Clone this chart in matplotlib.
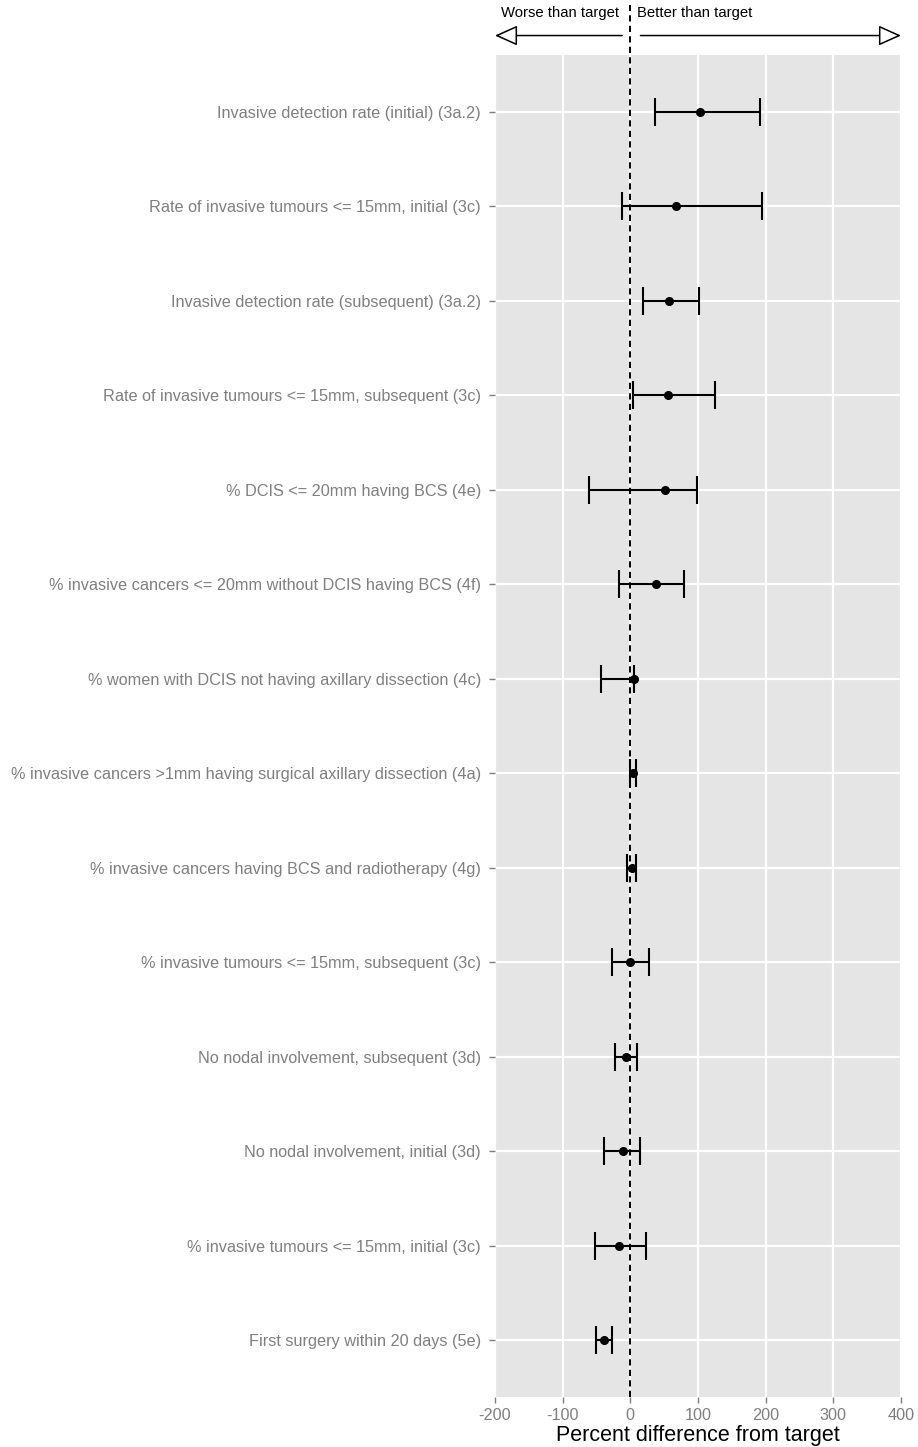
import numpy as np
import matplotlib
matplotlib.use('Agg')
import matplotlib.pyplot as plt

plt.rcParams['font.family'] = ['Liberation Sans', 'DejaVu Sans']

# indicators, top to bottom
labels = [
    'Invasive detection rate (initial) (3a.2)',
    'Rate of invasive tumours <= 15mm, initial (3c)',
    'Invasive detection rate (subsequent) (3a.2)',
    'Rate of invasive tumours <= 15mm, subsequent (3c)',
    '% DCIS <= 20mm having BCS (4e)',
    '% invasive cancers <= 20mm without DCIS having BCS (4f)',
    '% women with DCIS not having axillary dissection (4c)',
    '% invasive cancers >1mm having surgical axillary dissection (4a)',
    '% invasive cancers having BCS and radiotherapy (4g)',
    '% invasive tumours <= 15mm, subsequent (3c)',
    'No nodal involvement, subsequent (3d)',
    'No nodal involvement, initial (3d)',
    '% invasive tumours <= 15mm, initial (3c)',
    'First surgery within 20 days (5e)',
]
estimate = [103, 68, 57, 56, 51, 38, 5, 4, 3, 0, -6, -11, -17, -39]
lower = [36, -12, 19, 4, -61, -17, -43, -1, -5, -27, -23, -39, -52, -50]
upper = [191, 194, 102, 125, 98, 79, 6, 8, 8, 27, 10, 14, 23, -27]

x_ticks = [-200, -100, 0, 100, 200, 300, 400]

fig = plt.figure(figsize=(9.18, 14.47), dpi=100)
ax = fig.add_axes([495 / 918, 50 / 1447, 406 / 918, 1342 / 1447])
ax.set_facecolor('#E5E5E5')

y = np.arange(len(labels))
est = np.array(estimate)
err = np.vstack([est - np.array(lower), np.array(upper) - est])

ax.errorbar(est, y, xerr=err, fmt='o', color='black', ms=5.5,
            elinewidth=1.5, capsize=10, capthick=1.5, zorder=4)

ax.set_xlim(-200, 400)
ax.set_ylim(len(labels) - 0.4, -0.6)
ax.set_xticks(x_ticks)
ax.set_xticklabels([str(t) for t in x_ticks])
ax.set_yticks(y)
ax.set_yticklabels(labels)

ax.grid(True, color='white', lw=1.6, zorder=0)
ax.set_axisbelow(True)
for s in ax.spines.values():
    s.set_visible(False)
ax.tick_params(colors='#7F7F7F', labelsize=11.7, length=4, width=1, pad=4)
ax.tick_params(axis='y', pad=6)

ax.set_xlabel('Percent difference from target', fontsize=15.5, labelpad=1)

# target line, running up through the header arrows
ax.axvline(0, ymin=0, ymax=1.037, color='black', lw=1.4,
           ls=(0, (3.2, 2.2)), clip_on=False, zorder=3)

arrow = dict(arrowstyle='-|>,head_length=1.0,head_width=0.45', fc='white',
             ec='black', lw=1.1, mutation_scale=14, shrinkA=0, shrinkB=0)
ax.annotate('', xy=(-200, 1.0145), xytext=(-12, 1.0145),
            xycoords=('data', 'axes fraction'), arrowprops=arrow,
            annotation_clip=False)
ax.annotate('', xy=(400, 1.0145), xytext=(15, 1.0145),
            xycoords=('data', 'axes fraction'), arrowprops=arrow,
            annotation_clip=False)
ax.text(-17, 1.031, 'Worse than target', ha='right', va='center',
        fontsize=10.7, transform=ax.get_xaxis_transform(), clip_on=False)
ax.text(10, 1.031, 'Better than target', ha='left', va='center',
        fontsize=10.7, transform=ax.get_xaxis_transform(), clip_on=False)

fig.savefig('out.png', dpi=100)
